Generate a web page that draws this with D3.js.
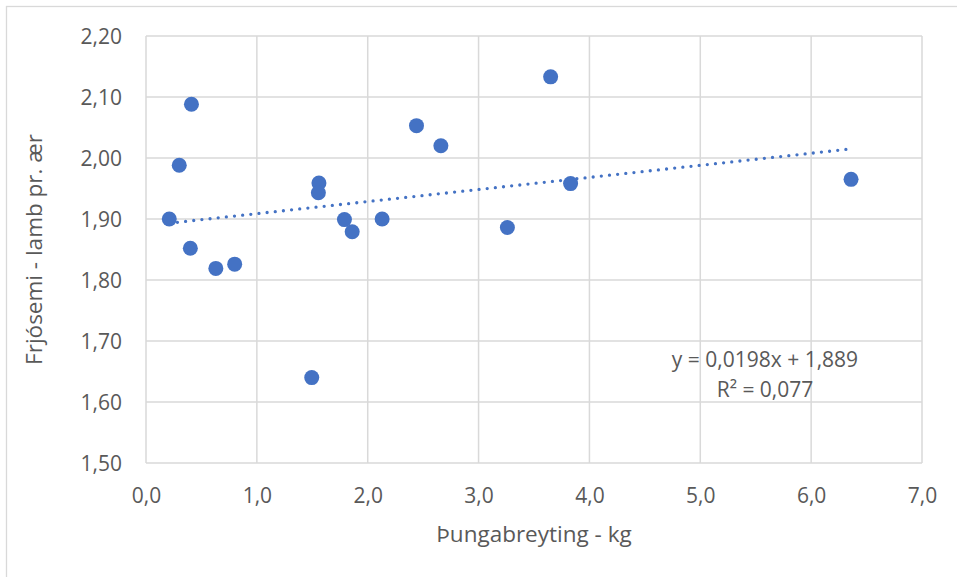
<!DOCTYPE html>
<html>
<head>
<meta charset="utf-8">
<script src="https://cdn.jsdelivr.net/npm/d3@7"></script>
<style>
  html, body { margin: 0; padding: 0; background: #fff; }
  svg { display: block; }
  text { font-family: "Open Sans", "Noto Sans", sans-serif; fill: #595959; }
</style>
</head>
<body>
<svg id="chart" width="957" height="577"></svg>
<script>
// Weight change (kg) against fertility (lambs per ewe)
const weightChange = [0.21, 0.30, 0.41, 0.40, 0.63, 0.80, 1.56, 1.555, 1.79, 1.86, 2.13, 2.44, 2.66, 1.495, 3.65, 3.26, 3.83, 6.36];
const fertility    = [1.900, 1.988, 2.088, 1.852, 1.819, 1.826, 1.959, 1.943, 1.899, 1.879, 1.900, 2.053, 2.020, 1.640, 2.133, 1.886, 1.958, 1.965];

// Linear trend line as reported
const trendSlope = 0.0198;
const trendIntercept = 1.889;
const trendLabels = ["y = 0,0198x + 1,889", "R² = 0,077"];

const xTicks = [0, 1, 2, 3, 4, 5, 6, 7];
const yTicks = [1.5, 1.6, 1.7, 1.8, 1.9, 2.0, 2.1, 2.2];
const xTitle = "Þungabreyting - kg";
const yTitle = "Frjósemi - lamb pr. ær";

const svg = d3.select("#chart");
const plot = { left: 146, right: 922, top: 36, bottom: 463 };

// chart frame
svg.append("rect")
  .attr("x", 6.5).attr("y", 6.5)
  .attr("width", 1000).attr("height", 1000)
  .attr("fill", "none").attr("stroke", "#d9d9d9").attr("stroke-width", 1.3);

const x = d3.scaleLinear().domain([0, 7]).range([plot.left, plot.right]);
const y = d3.scaleLinear().domain([1.5, 2.2]).range([plot.bottom, plot.top]);

const comma = v => v.toFixed(1).replace(".", ",");
const comma2 = v => v.toFixed(2).replace(".", ",");

// gridlines
const grid = svg.append("g").attr("stroke", "#d9d9d9").attr("stroke-width", 1.5);
grid.selectAll("line.h").data(yTicks).join("line")
  .attr("x1", plot.left).attr("x2", plot.right)
  .attr("y1", d => y(d)).attr("y2", d => y(d));
grid.selectAll("line.v").data(xTicks).join("line")
  .attr("y1", plot.top).attr("y2", plot.bottom)
  .attr("x1", d => x(d)).attr("x2", d => x(d));

// axes (labels only; the grid draws the lines)
const xAxis = svg.append("g")
  .attr("transform", `translate(0,${plot.bottom})`)
  .call(d3.axisBottom(x).tickValues(xTicks).tickFormat(comma).tickSize(0).tickPadding(0));
xAxis.select(".domain").remove();
xAxis.selectAll("text")
  .attr("y", 40).attr("dy", null)
  .style("font-size", "21px").style("font-family", null).attr("fill", "#595959");

const yAxis = svg.append("g")
  .attr("transform", `translate(${plot.left},0)`)
  .call(d3.axisLeft(y).tickValues(yTicks).tickFormat(comma2).tickSize(0).tickPadding(0));
yAxis.select(".domain").remove();
yAxis.selectAll("text")
  .attr("x", -24).attr("dy", "7.5px")
  .style("font-size", "21px").style("font-family", null).attr("fill", "#595959");
svg.selectAll(".tick text").attr("font-family", null).attr("font-size", null);

// trend line over the range of the data
const xExt = d3.extent(weightChange);
svg.append("line")
  .attr("x1", x(xExt[0])).attr("y1", y(trendSlope * xExt[0] + trendIntercept))
  .attr("x2", x(xExt[1])).attr("y2", y(trendSlope * xExt[1] + trendIntercept))
  .attr("stroke", "#4472C4").attr("stroke-width", 3.3)
  .attr("stroke-linecap", "round").attr("stroke-dasharray", "0 8.2");

// points
svg.append("g").selectAll("circle")
  .data(weightChange.map((v, i) => [v, fertility[i]]))
  .join("circle")
  .attr("cx", d => x(d[0])).attr("cy", d => y(d[1]))
  .attr("r", 7.5).attr("fill", "#4472C4");

// trend equation
svg.append("g").selectAll("text").data(trendLabels).join("text")
  .attr("x", 765).attr("y", (d, i) => 367 + i * 29.5)
  .attr("text-anchor", "middle").style("font-size", "21px")
  .text(d => d);

// axis titles
svg.append("text")
  .attr("x", (plot.left + plot.right) / 2).attr("y", 542)
  .attr("text-anchor", "middle").style("font-size", "22.5px")
  .text(xTitle);
svg.append("text")
  .attr("transform", `translate(42,${(plot.top + plot.bottom) / 2}) rotate(-90)`)
  .attr("text-anchor", "middle").style("font-size", "22.5px")
  .text(yTitle);
</script>
</body>
</html>
